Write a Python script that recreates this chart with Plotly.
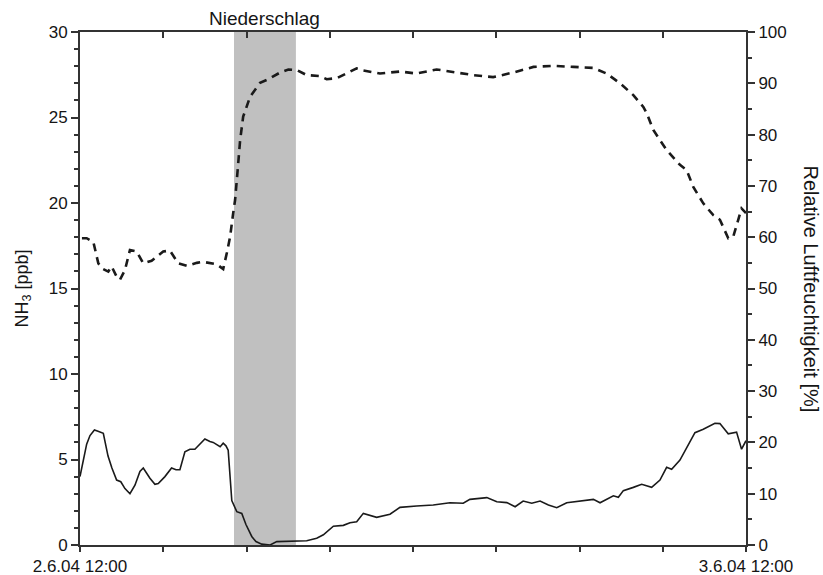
import plotly.graph_objects as go

# Time axis: hours after 2.6.04 12:00
nh3_hours = [0, 0.12, 0.24, 0.36, 0.52, 0.65, 0.84, 1.01, 1.15, 1.32, 1.47, 1.62, 1.80, 1.98,
             2.16, 2.28, 2.52, 2.70, 2.82, 3.06, 3.30, 3.46, 3.60, 3.78, 3.96, 4.14, 4.32, 4.50,
             4.68, 4.80, 5.05, 5.16, 5.26, 5.34, 5.47, 5.65, 5.83, 5.98, 6.19, 6.34, 6.55, 6.85,
             7.09, 7.69, 8.17, 8.53, 8.77, 9.13, 9.49, 9.73, 9.97, 10.21, 10.69, 11.17, 11.53,
             12.13, 12.73, 13.33, 13.81, 14.05, 14.66, 15.02, 15.38, 15.68, 15.97, 16.28, 16.58,
             16.88, 17.18, 17.54, 18.02, 18.50, 18.74, 19.22, 19.40, 19.58, 19.94, 20.24, 20.60,
             20.90, 21.14, 21.32, 21.62, 22.16, 22.46, 22.88, 23.06, 23.36, 23.66, 23.84, 24.0]
nh3_ppb = [4.0, 5.0, 5.9, 6.4, 6.73, 6.65, 6.53, 5.2, 4.5, 3.8, 3.7, 3.3, 3.0, 3.5,
           4.3, 4.5, 3.9, 3.55, 3.6, 4.0, 4.5, 4.4, 4.4, 5.45, 5.6, 5.6, 5.9, 6.2,
           6.05, 6.0, 5.75, 5.95, 5.8, 5.55, 2.6, 1.95, 1.85, 1.2, 0.5, 0.2, 0.05, 0.0,
           0.2, 0.23, 0.25, 0.4, 0.6, 1.1, 1.15, 1.3, 1.36, 1.85, 1.62, 1.8, 2.2,
           2.28, 2.34, 2.47, 2.44, 2.67, 2.77, 2.53, 2.48, 2.24, 2.57, 2.44, 2.57,
           2.34, 2.18, 2.47, 2.59, 2.67, 2.47, 2.88, 2.79, 3.18, 3.37, 3.55, 3.37,
           3.8, 4.54, 4.43, 4.97, 6.57, 6.77, 7.12, 7.1, 6.5, 6.6, 5.6, 6.1]

rh_hours = [0.07, 0.24, 0.48, 0.60, 0.66, 0.83, 1.02, 1.14, 1.32, 1.44, 1.62, 1.80, 2.04,
            2.28, 2.58, 3.00, 3.24, 3.54, 3.85, 4.21, 4.44, 4.93, 5.16, 5.29, 5.41, 5.52,
            5.59, 5.68, 5.77, 5.88, 6.13, 6.49, 6.79, 7.21, 7.51, 7.81, 8.17, 8.65, 8.89,
            9.25, 9.49, 9.97, 10.21, 10.81, 11.53, 12.13, 12.85, 13.57, 14.17, 14.89, 15.61,
            16.34, 17.06, 17.78, 18.50, 18.98, 19.46, 19.94, 20.30, 20.42, 20.66, 20.90,
            21.14, 21.62, 21.86, 22.10, 22.46, 22.82, 23.06, 23.36, 23.54, 23.72, 23.84, 24.0]
rh_percent = [59.8, 59.8, 59.1, 56.2, 54.9, 53.8, 53.3, 54.3, 52.3, 51.7, 53.6, 57.5, 57.2,
              54.9, 55.4, 57.2, 57.4, 54.9, 54.4, 55.0, 55.2, 54.7, 53.8, 56.9, 60.1, 64.7,
              67.3, 73.0, 78.9, 83.5, 87.4, 90.1, 90.8, 92.1, 92.7, 92.6, 91.6, 91.4, 90.8,
              91.0, 91.6, 92.9, 92.5, 91.9, 92.3, 91.9, 92.7, 92.1, 91.6, 91.2, 92.1,
              93.2, 93.4, 93.2, 93.0, 91.9, 90.0, 87.7, 85.4, 84.2, 80.9, 78.9,
              77.0, 74.1, 73.1, 69.8, 66.6, 64.3, 63.4, 59.8, 60.1, 63.4, 65.6, 64.7]

# Precipitation period (hours)
rain_start = 5.55
rain_end = 7.78
rain_label = "Niederschlag"

x_tickvals = [0, 3, 6, 9, 12, 15, 18, 21, 24]
x_ticktext = ["2.6.04 12:00", "", "", "", "", "", "", "", "3.6.04 12:00"]

FONT = "Liberation Sans, Arial, sans-serif"
AXIS_COLOR = "#333333"
LINE_COLOR = "#1a1a1a"
TEXT_COLOR = "#151515"

fig = go.Figure()

fig.add_trace(go.Scatter(
    x=nh3_hours, y=nh3_ppb, mode="lines", name="NH3",
    line=dict(color=LINE_COLOR, width=1.6), xaxis="x", yaxis="y",
))
fig.add_trace(go.Scatter(
    x=rh_hours, y=rh_percent, mode="lines", name="RH",
    line=dict(color=LINE_COLOR, width=2.6, dash="8px,6px"), xaxis="x", yaxis="y2",
))

fig.add_shape(type="rect", xref="x", yref="paper",
              x0=rain_start, x1=rain_end, y0=0, y1=1,
              fillcolor="#c0c0c0", line=dict(width=0), layer="below")

fig.add_annotation(x=(rain_start + rain_end) / 2, xref="x", y=1, yref="paper",
                   yanchor="bottom", yshift=1, text=rain_label, showarrow=False,
                   font=dict(family=FONT, size=19, color=TEXT_COLOR))

fig.add_annotation(x=0, xref="paper", y=0.5, yref="paper", xshift=-57,
                   text="NH<sub>3</sub> [ppb]", textangle=-90, showarrow=False,
                   xanchor="center", yanchor="middle",
                   font=dict(family=FONT, size=18, color=TEXT_COLOR))
fig.add_annotation(x=1, xref="paper", y=0.5, yref="paper", xshift=65,
                   text="Relative Luftfeuchtigkeit [%]", textangle=90, showarrow=False,
                   xanchor="center", yanchor="middle",
                   font=dict(family=FONT, size=20, color=TEXT_COLOR))

tick_font = dict(family=FONT, size=17, color=TEXT_COLOR)

fig.update_layout(
    width=823, height=575,
    margin=dict(l=80, r=77, t=32, b=30, autoexpand=False),
    paper_bgcolor="white", plot_bgcolor="white",
    showlegend=False,
    xaxis=dict(
        range=[0, 24], tickvals=x_tickvals, ticktext=x_ticktext,
        ticks="outside", ticklen=5, tickwidth=1.5, tickcolor=AXIS_COLOR,
        showline=True, linewidth=2, linecolor=AXIS_COLOR, automargin=False,
        showgrid=False, zeroline=False, tickfont=tick_font,
    ),
    xaxis2=dict(
        range=[0, 24], tickvals=x_tickvals, overlaying="x", side="top",
        ticks="inside", ticklen=6, tickwidth=1.5, tickcolor=AXIS_COLOR,
        showline=True, linewidth=2, linecolor=AXIS_COLOR, automargin=False,
        showticklabels=False, showgrid=False, zeroline=False,
    ),
    yaxis=dict(
        range=[0, 30], tickvals=[0, 5, 10, 15, 20, 25, 30],
        ticks="outside", ticklen=7, tickwidth=1.5, tickcolor=AXIS_COLOR,
        minor=dict(dtick=1, ticks="outside", ticklen=4, tickwidth=1.5, tickcolor=AXIS_COLOR),
        showline=True, linewidth=2, linecolor=AXIS_COLOR, automargin=False,
        showgrid=False, zeroline=False, tickfont=tick_font,
    ),
    yaxis2=dict(
        range=[0, 100], tickvals=list(range(0, 101, 10)), overlaying="y", side="right",
        ticks="outside", ticklen=7, tickwidth=1.5, tickcolor=AXIS_COLOR,
        minor=dict(dtick=5, ticks="outside", ticklen=4, tickwidth=1.5, tickcolor=AXIS_COLOR),
        showline=True, linewidth=2, linecolor=AXIS_COLOR, automargin=False,
        showgrid=False, zeroline=False, tickfont=tick_font,
    ),
)

# An empty trace on the top axis so it is drawn
fig.add_trace(go.Scatter(x=[None], y=[None], xaxis="x2", yaxis="y", showlegend=False,
                         hoverinfo="skip"))

fig.write_html("out.html")
